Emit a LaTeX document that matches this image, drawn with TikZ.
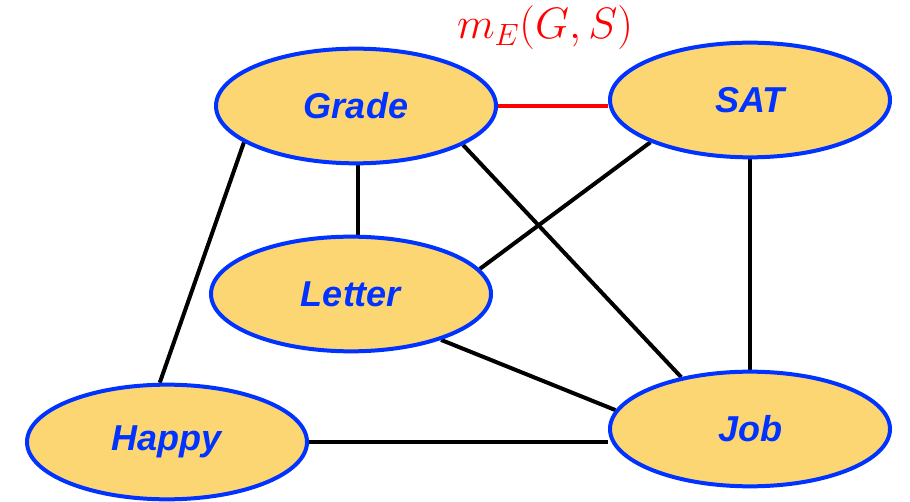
\RequirePackage{fix-cm}
\documentclass[tikz,border=0pt]{standalone}
\usepackage{fontspec}
\newfontfamily\nodefont{Liberation Sans}
\usetikzlibrary{shapes.geometric,backgrounds}
\definecolor{nodefill}{RGB}{253,214,116}
\definecolor{nodeblue}{RGB}{0,51,255}
\definecolor{edgered}{RGB}{255,0,0}
\tikzset{
  varnode/.style={ellipse, draw=nodeblue, fill=nodefill, line width=3pt,
    minimum width=210pt, minimum height=86pt, inner sep=0pt,
    text=nodeblue, font=\nodefont\bfseries\itshape\fontsize{27}{32}\selectfont},
  edge/.style={line width=3pt, black},
  redge/.style={line width=3pt, edgered}
}
\begin{document}
\begin{tikzpicture}[x=0.75pt,y=-0.75pt]
\useasboundingbox (0,0) rectangle (910,502);
\node[varnode] (Grade) at (356,106) {Grade};
\node[varnode] (SAT) at (750,100) {SAT};
\node[varnode] (Letter) at (351,294) {Letter};
\node[varnode] (Happy) at (167,442) {Happy};
\node[varnode] (Job) at (750,429) {Job};
\node[text=edgered, font=\fontsize{33}{40}\selectfont] (lab) at (545,28) {$m_E(G,S)$};
\begin{scope}[on background layer]
\draw[redge] (Grade.east) -- (Grade.east -| SAT.west);
\draw[edge] (Grade.south -| 358,0) -- (Letter.north -| 358,0);
\draw[edge] (Grade.198.4) -- (Happy.97);
\draw[edge] (Grade.340.5) -- (Job.143.9);
\draw[edge] (SAT.203.8) -- (Letter.11.6);
\draw[edge] (SAT.south) -- (Job.north);
\draw[edge] (Letter.333.7) -- (Job.172.7);
\draw[edge] (Happy.east) -- (Happy.east -| Job.west);
\end{scope}
\end{tikzpicture}
\end{document}
